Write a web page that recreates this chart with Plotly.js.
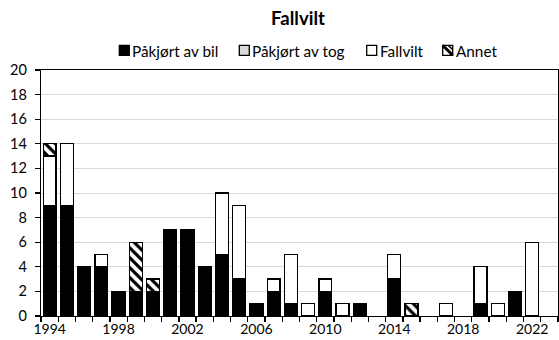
<!DOCTYPE html>
<html><head><meta charset="utf-8">
<script src="https://cdn.plot.ly/plotly-3.0.1.min.js"></script>
<style>body{margin:0;}#c{width:559px;height:340px;}</style>
</head><body><div id="c"></div>
<script>
const years = [1994,1995,1996,1997,1998,1999,2000,2001,2002,2003,2004,2005,2006,2007,2008,2009,2010,2011,2012,2013,2014,2015,2016,2017,2018,2019,2020,2021,2022,2023];
const bil      = [9,9,4,4,2,2,2,7,7,4,5,3,1,2,1,0,2,0,1,0,3,0,0,0,0,1,0,2,0,0];
const tog      = [0,0,0,0,0,0,0,0,0,0,0,0,0,0,0,0,0,0,0,0,0,0,0,0,0,0,0,0,0,0];
const fallvilt = [4,5,0,1,0,0,0,0,0,0,5,6,0,1,4,1,1,1,0,0,2,0,0,1,0,3,1,0,6,0];
const annet    = [1,0,0,0,0,4,1,0,0,0,0,0,0,0,0,0,0,0,0,0,0,1,0,0,0,0,0,0,0,0];
const seriesNames = ['Påkjørt av bil','Påkjørt av tog','Fallvilt','Annet'];
const tickYears = [1994,1998,2002,2006,2010,2014,2018,2022];

const W = 559, H = 340, ML = 41, MR = 1, MT = 70, MB = 24;
const PW = W - ML - MR, PH = H - MT - MB;
const px = v => (v - ML) / PW;
const py = v => (H - MB - v) / PH;
const nz = a => a.map(v => v === 0 ? null : v);

const line = {color:'#000', width:1.3};
const pat = {shape:'\\', fgcolor:'#000', bgcolor:'#fff', size:7, solidity:0.45};
const traces = [
  {name:seriesNames[0], x:years, y:nz(bil), type:'bar', marker:{color:'#000', line:line}},
  {name:seriesNames[1], x:years, y:nz(tog), type:'bar', marker:{color:'#d9d9d9', line:line}},
  {name:seriesNames[2], x:years, y:nz(fallvilt), type:'bar', marker:{color:'#fff', line:line}},
  {name:seriesNames[3], x:years, y:nz(annet), type:'bar', marker:{color:'#fff', line:line, pattern:pat}}
];

// manual legend (styling positions)
const legSq = [119.3, 239.3, 366.7, 442.7];
const legFill = ['#000', '#d9d9d9', '#fff', '#fff'];
const sqTop = 45.3, sqSz = 10;
const shapes = [], annotations = [];
legSq.forEach((x0, i) => {
  shapes.push({type:'rect', xref:'paper', yref:'paper', x0:px(x0), x1:px(x0+sqSz), y0:py(sqTop+sqSz), y1:py(sqTop),
    fillcolor:legFill[i], line:{color:'#000', width:1.3}, layer:'above'});
  annotations.push({xref:'paper', yref:'paper', x:px(x0+sqSz+0.8), y:py(sqTop+sqSz/2+0.3), xanchor:'left', yanchor:'middle',
    text:seriesNames[i], showarrow:false, font:{size:15.3, color:'#000'}});
});
// hatch in last legend symbol
{
  const x0 = legSq[3], y0 = sqTop, s = sqSz;
  shapes.push({type:'line', xref:'paper', yref:'paper', x0:px(x0), y0:py(y0), x1:px(x0+s), y1:py(y0+s), line:{color:'#000', width:3}});
  shapes.push({type:'path', xref:'paper', yref:'paper',
    path:`M ${px(x0)},${py(y0)} L ${px(x0+3.5)},${py(y0)} L ${px(x0)},${py(y0+3.5)} Z`, fillcolor:'#000', line:{width:0}});
  shapes.push({type:'path', xref:'paper', yref:'paper',
    path:`M ${px(x0+s)},${py(y0+s)} L ${px(x0+s-3.5)},${py(y0+s)} L ${px(x0+s)},${py(y0+s-3.5)} Z`, fillcolor:'#000', line:{width:0}});
  shapes.push({type:'line', xref:'paper', yref:'paper', x0:px(x0+5.5), y0:py(y0), x1:px(x0+s), y1:py(y0+s-5.5), line:{color:'#000', width:1.5}});
}

const layout = {
  width:W, height:H,
  margin:{l:ML, r:MR, t:MT, b:MB},
  paper_bgcolor:'#fff', plot_bgcolor:'#fff',
  font:{family:'Lato, "Open Sans", sans-serif', size:14, color:'#000'},
  barmode:'stack', bargap:0.25,
  title:{text:'<b>Fallvilt</b>', xref:'container', yref:'container', x:298/W, xanchor:'center', y:1-19/H, yanchor:'middle', font:{size:18.5, color:'#000'}},
  showlegend:false,
  shapes:shapes, annotations:annotations,
  xaxis:{range:[1993.5,2023.5], tickmode:'array', tickvals:tickYears, ticks:'', showgrid:false,
    showline:true, linecolor:'#000', linewidth:1.3, mirror:true, zeroline:false, ticklabelstandoff:0,
    minor:{tick0:1993.5, dtick:1, ticks:'outside', ticklen:5, tickcolor:'#000', tickwidth:1.3, showgrid:false},
    tickfont:{size:14}},
  yaxis:{range:[0,20], dtick:2, ticks:'outside', ticklen:5, tickcolor:'#000', tickwidth:1.3,
    showline:true, linecolor:'#000', linewidth:1.3, mirror:true, zeroline:false, ticklabelstandoff:5,
    showgrid:true, gridcolor:'#d9d9d9', gridwidth:1, tickfont:{size:14.5}}
};
Plotly.newPlot('c', traces, layout, {displayModeBar:false, staticPlot:true});
</script></body></html>
